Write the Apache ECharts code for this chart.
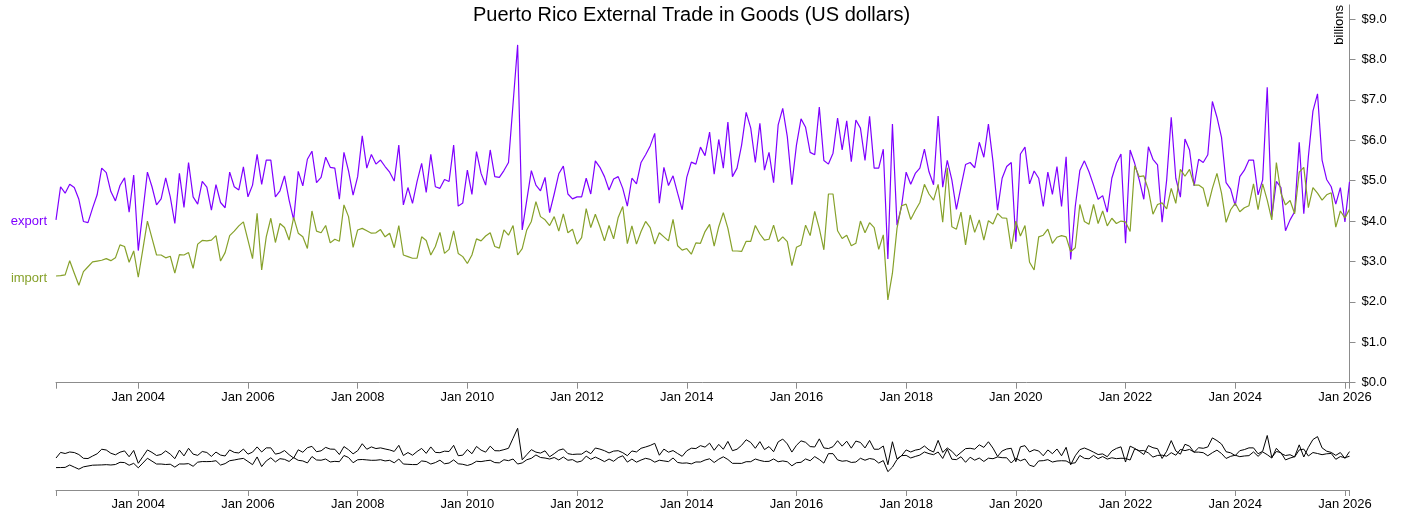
<!DOCTYPE html>
<html><head><meta charset="utf-8">
<script src="https://cdn.jsdelivr.net/npm/echarts@6/dist/echarts.min.js"></script>
<style>html,body{margin:0;padding:0;background:#fff}#c{width:1403px;height:519px}</style>
</head><body><div id="c"></div>
<script>
// Monthly series, first point = Jul 2002 (index 0)
const startYear = 2002;
const startMonthIndex = 6; // July (0-based)
const seriesNames = ['export', 'import'];
const exportVals = [
4.03,4.85,4.69,4.91,4.83,4.54,3.99,3.96,4.32,4.65,5.31,5.20,4.73,4.50,4.88,5.07,4.22,5.14,3.27,4.23,5.21,4.85,4.40,4.55,5.07,4.60,
3.94,5.18,4.34,5.45,4.60,4.42,4.98,4.84,4.27,4.90,4.46,4.33,5.21,4.85,4.77,5.34,4.60,4.89,5.65,4.91,5.51,5.51,4.60,4.75,5.12,
4.52,4.03,5.23,4.87,5.53,5.73,4.95,5.08,5.58,5.33,5.31,4.54,5.70,5.24,4.64,5.10,6.11,5.31,5.65,5.41,5.51,5.35,5.21,4.99,5.88,
4.40,4.83,4.44,4.98,5.43,4.71,5.65,4.85,4.81,5.03,4.98,5.88,4.37,4.45,5.26,4.66,5.72,5.18,4.89,5.76,5.10,5.08,5.25,5.45,6.91,8.36,
3.78,4.52,5.25,4.89,4.75,5.08,4.21,4.67,5.17,5.36,4.67,4.55,4.60,4.60,5.06,4.67,5.49,5.33,5.10,4.77,5.04,5.10,4.81,4.37,
5.06,4.92,5.45,5.64,5.86,6.17,4.44,5.33,4.88,5.12,4.69,4.28,5.08,5.46,5.41,5.83,5.62,6.20,5.16,6.02,5.31,6.45,5.10,5.31,5.88,
6.69,6.30,5.45,6.42,5.26,5.70,4.95,6.38,6.79,6.09,4.90,5.88,6.53,6.32,5.70,5.64,6.82,5.50,5.41,5.68,6.55,5.76,6.48,5.47,6.50,6.30,
5.50,6.59,5.31,5.31,5.78,3.06,6.40,3.90,4.37,5.21,4.91,5.18,5.31,5.78,5.22,4.90,6.60,4.84,5.50,5.02,4.29,4.85,5.40,5.45,5.32,
5.95,5.58,6.40,5.47,4.27,5.06,5.35,5.45,3.49,5.66,5.83,4.92,5.24,5.06,4.36,5.21,4.66,5.35,4.36,5.59,3.05,4.36,5.25,5.49,5.22,
4.89,4.54,4.63,4.22,5.06,5.43,5.66,3.45,5.76,5.43,5.02,4.54,5.84,5.53,5.39,3.97,5.02,6.57,5.06,4.59,6.03,5.76,4.87,5.53,5.45,
5.64,6.96,6.57,6.07,4.95,4.79,4.38,5.10,5.26,5.51,5.51,4.65,5.02,7.31,4.11,4.98,4.83,3.76,4.03,4.23,5.95,4.18,5.59,6.72,7.15,5.51,5.03,4.85,4.42,4.83,3.98,4.97
];
const importVals = [
2.64,2.65,2.67,3.02,2.71,2.41,2.75,2.87,2.99,3.01,3.03,3.07,3.02,3.09,3.41,3.37,2.98,3.26,2.61,3.30,4.00,3.58,3.16,3.16,3.09,3.13,
2.71,3.17,3.16,3.22,2.83,3.43,3.52,3.51,3.53,3.64,3.01,3.22,3.64,3.75,3.88,3.98,3.53,3.07,4.19,2.79,3.61,4.07,3.47,3.94,3.84,
3.53,4.09,3.70,3.61,3.32,4.25,3.75,3.71,3.89,3.46,3.55,3.50,4.40,4.11,3.35,3.78,3.82,3.76,3.70,3.71,3.79,3.61,3.70,3.34,3.89,
3.16,3.12,3.08,3.08,3.61,3.52,3.16,3.37,3.72,3.20,3.30,3.76,3.20,3.12,2.95,3.16,3.56,3.51,3.63,3.71,3.37,3.33,3.78,3.65,3.89,
3.16,3.32,3.78,3.99,4.48,4.11,4.03,3.89,4.11,3.75,4.18,3.71,3.80,3.43,3.59,4.31,3.84,4.17,3.86,3.51,3.89,3.56,4.09,4.36,3.44,
3.88,3.43,3.74,3.99,3.84,3.43,3.71,3.61,3.51,4.04,3.39,3.28,3.32,3.18,3.46,3.45,3.74,3.92,3.38,3.86,4.21,3.82,3.26,3.26,3.25,
3.50,3.50,3.89,3.68,3.53,3.55,3.90,3.49,3.61,3.49,2.90,3.35,3.41,3.90,3.64,4.24,3.82,3.29,4.67,4.67,3.76,3.57,3.65,3.39,3.45,4.00,
3.71,3.96,3.84,3.30,3.66,2.05,2.71,3.82,4.38,4.42,4.04,4.26,4.46,4.91,4.67,4.52,4.91,3.97,5.32,3.86,3.80,4.22,3.41,4.15,3.72,
4.03,3.53,4.01,3.93,4.19,4.08,4.07,3.31,4.00,3.63,3.89,2.98,2.79,3.61,3.65,3.80,3.45,3.60,3.64,3.61,3.24,3.34,4.41,3.99,3.92,
4.41,3.94,4.25,3.88,4.07,3.94,4.00,3.98,3.74,5.37,5.10,5.12,4.77,4.17,4.41,4.45,4.30,4.81,4.44,5.28,5.11,5.28,4.89,4.89,4.81,
4.36,4.81,5.18,4.69,3.97,4.28,4.44,4.23,4.33,4.38,4.92,4.28,4.92,4.52,4.03,5.45,4.69,4.40,4.51,4.18,5.21,5.33,4.33,4.83,4.69,4.52,4.65,4.70,3.85,4.25,4.08,4.29
];
const xTickYears = [2004,2006,2008,2010,2012,2014,2016,2018,2020,2022,2024,2026];
const yTickValues = [0,1,2,3,4,5,6,7,8,9];
const titleText = 'Puerto Rico External Trade in Goods (US dollars)';
const yUnitText = 'billions';

const COL_EXP = '#7f00ff';
const COL_IMP = '#86a12a';
const FONT = 'Liberation Sans, Arial, sans-serif';

const nPts = exportVals.length;
const yearToIdx = y => (y - startYear) * 12 - startMonthIndex;
const xTickIdx = xTickYears.map(yearToIdx);
const idxLabel = i => 'Jan ' + (startYear + Math.floor((i + startMonthIndex) / 12));

function mkData(vals, name, color) {
  return vals.map((v, i) => {
    if (i === 0) {
      return { value: [i, v], label: { show: true, formatter: name, position: 'left', distance: 9, offset: [0, 2], color: color, fontSize: 13, fontFamily: FONT } };
    }
    return [i, v];
  });
}
const plain = vals => vals.map((v, i) => [i, v]);

const axisGray = '#8c8c8c';
const chart = echarts.init(document.getElementById('c'), null, { renderer: 'canvas' });
chart.setOption({
  animation: false,
  backgroundColor: '#fff',
  title: { text: titleText, left: 468, top: 0, textStyle: { fontSize: 20, fontWeight: 'normal', color: '#000', fontFamily: FONT } },
  grid: [
    { left: 56, right: 53.5, top: 4.9, bottom: 136.3 },
    { left: 56, right: 53.5, top: 428, bottom: 47 }
  ],
  xAxis: [
    { type: 'value', gridIndex: 0, min: 0, max: nPts - 1,
      axisLine: { show: true, onZero: false, lineStyle: { color: axisGray, width: 1 } },
      axisTick: { show: true, length: 6, lineStyle: { color: axisGray }, customValues: [0].concat(xTickIdx, [nPts - 1]) },
      axisLabel: { customValues: xTickIdx, formatter: v => idxLabel(v), color: '#000', fontSize: 13, fontFamily: FONT, margin: 8 },
      splitLine: { show: false } },
    { type: 'value', gridIndex: 1, min: 0, max: nPts - 1, offset: 18,
      axisLine: { show: true, onZero: false, lineStyle: { color: axisGray, width: 1 } },
      axisTick: { show: true, length: 6, lineStyle: { color: axisGray }, customValues: [0].concat(xTickIdx, [nPts - 1]) },
      axisLabel: { customValues: xTickIdx, formatter: v => idxLabel(v), color: '#000', fontSize: 13, fontFamily: FONT, margin: 8 },
      splitLine: { show: false } }
  ],
  yAxis: [
    { type: 'value', gridIndex: 0, position: 'right', min: 0, max: 9.35,
      axisLine: { show: true, onZero: false, lineStyle: { color: axisGray, width: 1 } },
      axisTick: { show: true, length: 6, lineStyle: { color: axisGray }, customValues: yTickValues },
      axisLabel: { customValues: yTickValues, formatter: v => '$' + v.toFixed(1), color: '#000', fontSize: 13, fontFamily: FONT, margin: 12 },
      splitLine: { show: false } },
    { type: 'value', gridIndex: 1, show: false, min: 2.0, max: 8.4,
      axisLine: { show: false, onZero: false }, axisTick: { show: false }, axisLabel: { show: false }, splitLine: { show: false } }
  ],
  graphic: [
    { type: 'text', x: 1339, y: 5, rotation: Math.PI / 2,
      style: { text: yUnitText, fill: '#000', fontSize: 13, fontFamily: FONT, align: 'right', verticalAlign: 'middle' } }
  ],
  series: [
    { name: seriesNames[0], type: 'line', xAxisIndex: 0, yAxisIndex: 0, data: mkData(exportVals, seriesNames[0], COL_EXP),
      showSymbol: true, symbolSize: 0, itemStyle: { color: COL_EXP }, lineStyle: { color: COL_EXP, width: 1.2 }, emphasis: { disabled: true } },
    { name: seriesNames[1], type: 'line', xAxisIndex: 0, yAxisIndex: 0, data: mkData(importVals, seriesNames[1], COL_IMP),
      showSymbol: true, symbolSize: 0, itemStyle: { color: COL_IMP }, lineStyle: { color: COL_IMP, width: 1.2 }, emphasis: { disabled: true } },
    { name: 'export-nav', type: 'line', xAxisIndex: 1, yAxisIndex: 1, data: plain(exportVals), showSymbol: false,
      lineStyle: { color: '#000', width: 1 }, emphasis: { disabled: true } },
    { name: 'import-nav', type: 'line', xAxisIndex: 1, yAxisIndex: 1, data: plain(importVals), showSymbol: false,
      lineStyle: { color: '#000', width: 1 }, emphasis: { disabled: true } }
  ]
});
</script>
</body></html>
